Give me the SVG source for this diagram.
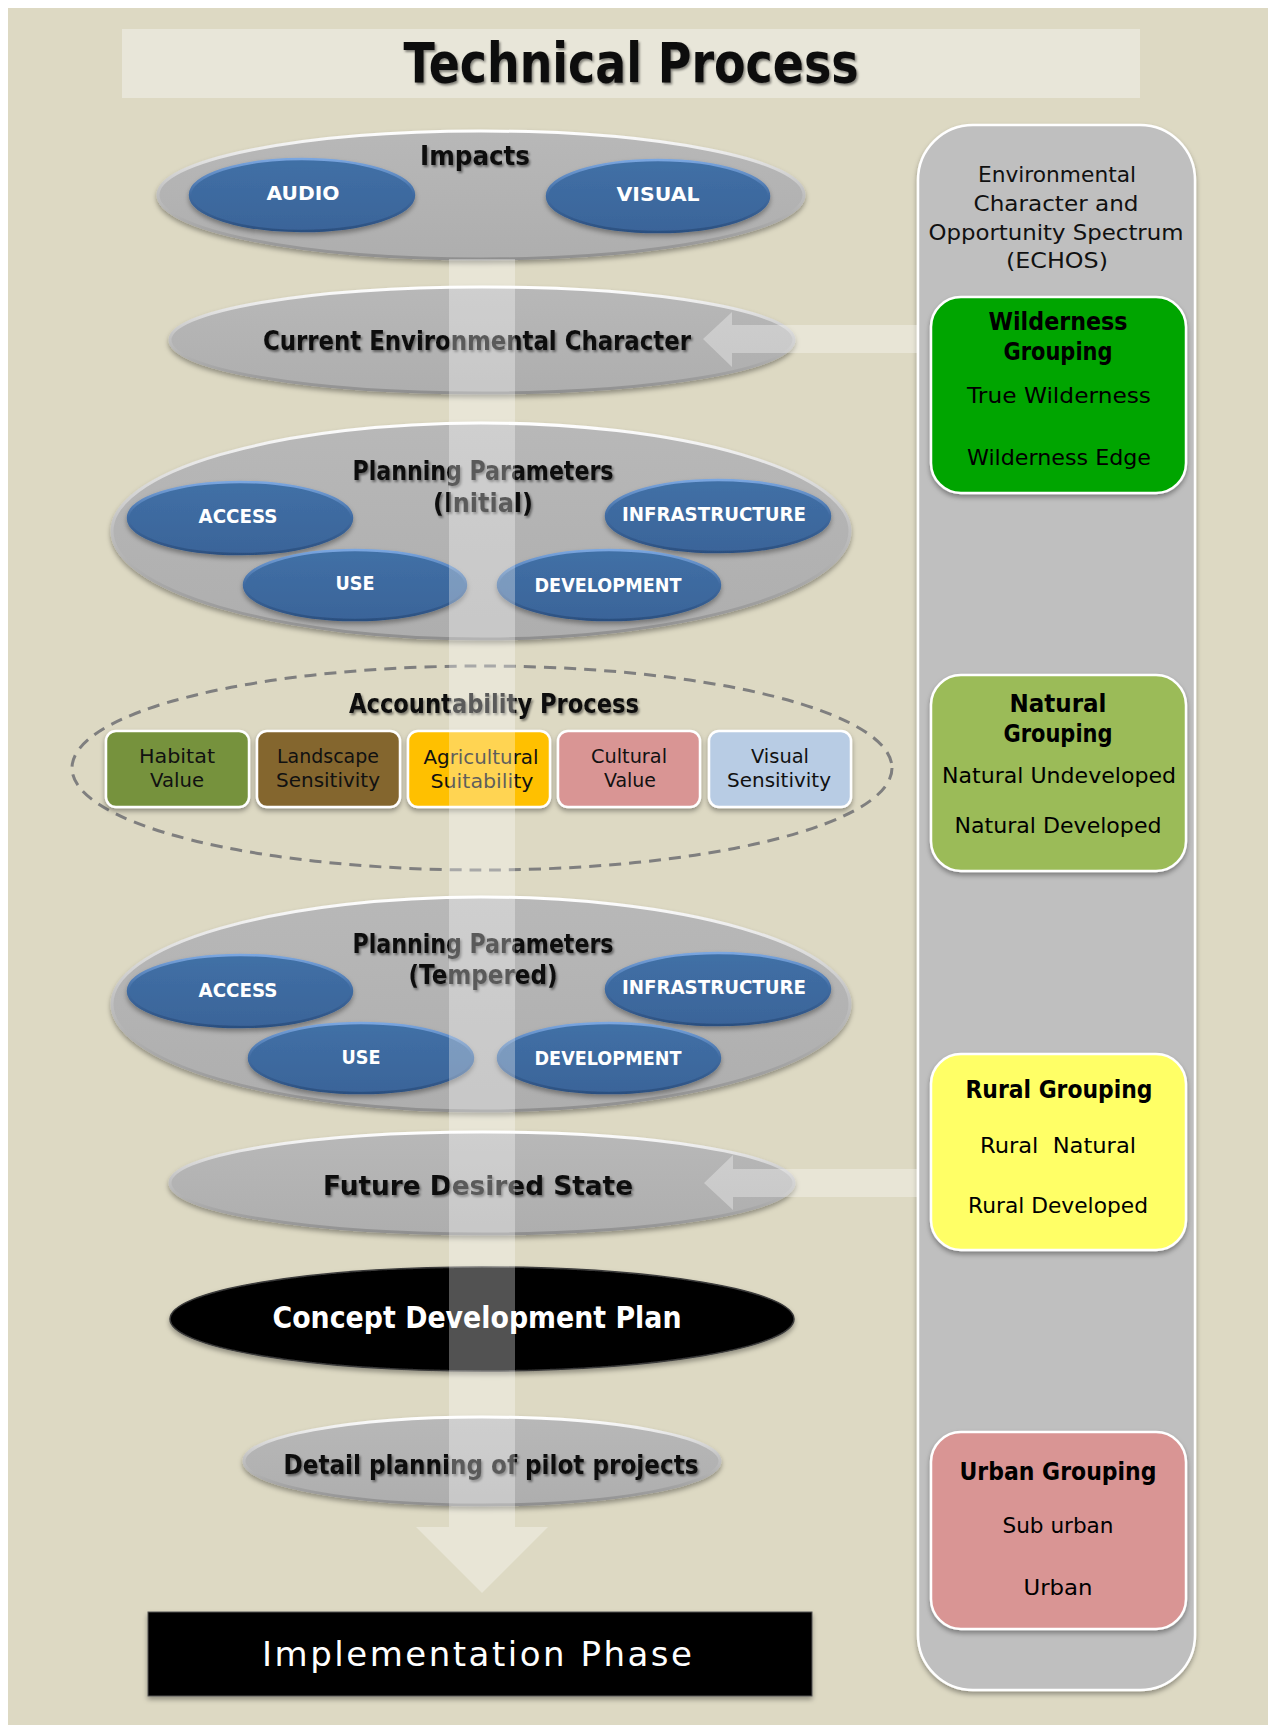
<svg xmlns="http://www.w3.org/2000/svg" width="1268" height="1725" viewBox="0 0 1268 1725">
  <defs>
    <style>
      text { font-family: "Comic Sans MS", "DejaVu Sans", "Open Sans", sans-serif; text-anchor: middle; }
      .title { font-size: 56px; font-weight: bold; fill: #0d0d0d; }
      .lbl { font-size: 26px; font-weight: bold; fill: #111; }
      .blue-t { font-size: 19px; font-weight: bold; fill: #ffffff; }
      .box-t { font-size: 20px; fill: #111; }
      .echos-t { font-size: 21px; fill: #111; }
      .grp-h { font-size: 25px; font-weight: bold; fill: #000; }
      .grp-i { font-size: 22px; fill: #000; }
      .white-b { font-size: 31px; font-weight: bold; fill: #ffffff; }
      .white-r { font-size: 34px; fill: #ffffff; }
      .gray-ell { fill: url(#grayFill); stroke: url(#grayRim); stroke-width: 3; filter: url(#shadow); }
      .blue-ell { fill: url(#blueFill); stroke: url(#blueRim); stroke-width: 2.5; filter: url(#shadow); }
      .acc-box { stroke: #ffffff; stroke-width: 2.5; filter: url(#shadow); }
      .grp-box { stroke: #ffffff; stroke-width: 2.5; filter: url(#shadow); }
      .flow { fill: #ffffff; fill-opacity: 0.32; }
    </style>
    <linearGradient id="grayFill" x1="0" y1="0" x2="0" y2="1">
      <stop offset="0" stop-color="#b8b8b8"/>
      <stop offset="1" stop-color="#aeaeae"/>
    </linearGradient>
    <linearGradient id="grayRim" x1="0" y1="0" x2="0" y2="1">
      <stop offset="0" stop-color="#ffffff"/>
      <stop offset="0.45" stop-color="#c4c4c4"/>
      <stop offset="1" stop-color="#8f8f8f"/>
    </linearGradient>
    <linearGradient id="blueFill" x1="0" y1="0" x2="0" y2="1">
      <stop offset="0" stop-color="#4170a6"/>
      <stop offset="1" stop-color="#3a6499"/>
    </linearGradient>
    <linearGradient id="blueRim" x1="0" y1="0" x2="0" y2="1">
      <stop offset="0" stop-color="#7aa6e0"/>
      <stop offset="0.5" stop-color="#3f6aa0"/>
      <stop offset="1" stop-color="#2c5080"/>
    </linearGradient>
    <filter id="shadow" x="-10%" y="-20%" width="120%" height="150%">
      <feDropShadow dx="0" dy="3" stdDeviation="2.5" flood-color="#000" flood-opacity="0.35"/>
    </filter>
    <filter id="tshadow" x="-5%" y="-20%" width="110%" height="160%">
      <feDropShadow dx="1.5" dy="2" stdDeviation="1.2" flood-color="#000" flood-opacity="0.45"/>
    </filter>
  </defs>

  <!-- page background -->
  <rect x="0" y="0" width="1268" height="1725" fill="#ffffff"/>
  <rect x="8" y="8" width="1260" height="1717" fill="#ddd9c3"/>

  <!-- heading -->
  <g id="title">
    <rect x="122" y="29" width="1018" height="69" fill="#e8e6d9"/>
    <text class="title" x="631" y="82" textLength="455" lengthAdjust="spacingAndGlyphs" filter="url(#tshadow)">Technical Process</text>
  </g>

  <!-- ECHOS column and its groupings -->
  <g id="echos">
    <rect x="918" y="125" width="277" height="1565" rx="55" fill="#bfbfbf" stroke="#ffffff" stroke-width="2.5" filter="url(#shadow)"/>
    <text class="echos-t" x="1057" y="182" textLength="158" lengthAdjust="spacingAndGlyphs">Environmental</text>
    <text class="echos-t" x="1056" y="211" textLength="165" lengthAdjust="spacingAndGlyphs">Character and</text>
    <text class="echos-t" x="1056" y="240" textLength="255" lengthAdjust="spacingAndGlyphs">Opportunity Spectrum</text>
    <text class="echos-t" x="1057" y="268" textLength="102" lengthAdjust="spacingAndGlyphs">(ECHOS)</text>
  </g>

  <g id="wilderness">
    <rect class="grp-box" x="931" y="297" width="255" height="196" rx="30" fill="#00a500"/>
    <text class="grp-h" x="1058" y="330" textLength="139" lengthAdjust="spacingAndGlyphs">Wilderness</text>
    <text class="grp-h" x="1058" y="360" textLength="109" lengthAdjust="spacingAndGlyphs">Grouping</text>
    <text class="grp-i" x="1059" y="403" textLength="184" lengthAdjust="spacingAndGlyphs">True Wilderness</text>
    <text class="grp-i" x="1059" y="465" textLength="184" lengthAdjust="spacingAndGlyphs">Wilderness Edge</text>
  </g>

  <g id="natural">
    <rect class="grp-box" x="931" y="675" width="255" height="196" rx="30" fill="#9bbb59"/>
    <text class="grp-h" x="1058" y="712" textLength="97" lengthAdjust="spacingAndGlyphs">Natural</text>
    <text class="grp-h" x="1058" y="742" textLength="109" lengthAdjust="spacingAndGlyphs">Grouping</text>
    <text class="grp-i" x="1059" y="783" textLength="234" lengthAdjust="spacingAndGlyphs">Natural Undeveloped</text>
    <text class="grp-i" x="1058" y="833" textLength="207" lengthAdjust="spacingAndGlyphs">Natural Developed</text>
  </g>

  <g id="rural">
    <rect class="grp-box" x="931" y="1054" width="255" height="196" rx="30" fill="#ffff66"/>
    <text class="grp-h" x="1059" y="1098" textLength="187" lengthAdjust="spacingAndGlyphs">Rural Grouping</text>
    <text class="grp-i" x="1058" y="1153" textLength="156" lengthAdjust="spacingAndGlyphs" xml:space="preserve">Rural  Natural</text>
    <text class="grp-i" x="1058" y="1213" textLength="180" lengthAdjust="spacingAndGlyphs">Rural Developed</text>
  </g>

  <g id="urban">
    <rect class="grp-box" x="931" y="1432" width="255" height="197" rx="30" fill="#d99594"/>
    <text class="grp-h" x="1058" y="1480" textLength="197" lengthAdjust="spacingAndGlyphs">Urban Grouping</text>
    <text class="grp-i" x="1058" y="1533" textLength="111" lengthAdjust="spacingAndGlyphs">Sub urban</text>
    <text class="grp-i" x="1058" y="1595" textLength="69" lengthAdjust="spacingAndGlyphs">Urban</text>
  </g>

  <!-- process stages -->
  <g id="impacts">
    <ellipse class="gray-ell" cx="481" cy="195" rx="323" ry="64"/>
    <text class="lbl" x="475" y="165" textLength="110" lengthAdjust="spacingAndGlyphs" filter="url(#tshadow)">Impacts</text>
    <ellipse class="blue-ell" cx="302" cy="195" rx="112" ry="36"/>
    <text class="blue-t" x="303" y="200" textLength="73" lengthAdjust="spacingAndGlyphs">AUDIO</text>
    <ellipse class="blue-ell" cx="658" cy="196" rx="111" ry="36"/>
    <text class="blue-t" x="658" y="201" textLength="83" lengthAdjust="spacingAndGlyphs">VISUAL</text>
  </g>

  <g id="current-character">
    <ellipse class="gray-ell" cx="482" cy="340" rx="312" ry="53"/>
    <text class="lbl" x="477" y="350" textLength="428" lengthAdjust="spacingAndGlyphs" filter="url(#tshadow)">Current Environmental Character</text>
  </g>

  <g id="planning-initial">
    <ellipse class="gray-ell" cx="481" cy="531" rx="369" ry="108"/>
    <text class="lbl" x="483" y="480" textLength="261" lengthAdjust="spacingAndGlyphs" filter="url(#tshadow)">Planning Parameters</text>
    <text class="lbl" x="483" y="512" textLength="100" lengthAdjust="spacingAndGlyphs" filter="url(#tshadow)">(Initial)</text>
    <ellipse class="blue-ell" cx="240" cy="518" rx="112" ry="36"/>
    <text class="blue-t" x="238" y="523" textLength="79" lengthAdjust="spacingAndGlyphs">ACCESS</text>
    <ellipse class="blue-ell" cx="718" cy="516" rx="112" ry="36"/>
    <text class="blue-t" x="714" y="521" textLength="184" lengthAdjust="spacingAndGlyphs">INFRASTRUCTURE</text>
    <ellipse class="blue-ell" cx="355" cy="585" rx="111" ry="35"/>
    <text class="blue-t" x="355" y="590" textLength="39" lengthAdjust="spacingAndGlyphs">USE</text>
    <ellipse class="blue-ell" cx="609" cy="585" rx="111" ry="35"/>
    <text class="blue-t" x="608" y="592" textLength="147" lengthAdjust="spacingAndGlyphs">DEVELOPMENT</text>
  </g>

  <g id="accountability">
    <ellipse cx="482" cy="768" rx="410" ry="102" fill="none" stroke="#7f7f7f" stroke-width="3" stroke-dasharray="12 8"/>
    <text class="lbl" x="494" y="713" textLength="290" lengthAdjust="spacingAndGlyphs" filter="url(#tshadow)">Accountability Process</text>
    <g id="habitat">
      <rect class="acc-box" x="106" y="731" width="143" height="76" rx="10" fill="#76923c"/>
      <text class="box-t" x="177" y="763" textLength="76" lengthAdjust="spacingAndGlyphs">Habitat</text>
      <text class="box-t" x="177" y="787" textLength="54" lengthAdjust="spacingAndGlyphs">Value</text>
    </g>
    <g id="landscape">
      <rect class="acc-box" x="257" y="731" width="143" height="76" rx="10" fill="#84662f"/>
      <text class="box-t" x="328" y="763" textLength="102" lengthAdjust="spacingAndGlyphs">Landscape</text>
      <text class="box-t" x="328" y="787" textLength="104" lengthAdjust="spacingAndGlyphs">Sensitivity</text>
    </g>
    <g id="agricultural">
      <rect class="acc-box" x="408" y="731" width="142" height="76" rx="10" fill="#ffc000"/>
      <text class="box-t" x="481" y="764" textLength="115" lengthAdjust="spacingAndGlyphs">Agricultural</text>
      <text class="box-t" x="482" y="788" textLength="103" lengthAdjust="spacingAndGlyphs">Suitability</text>
    </g>
    <g id="cultural">
      <rect class="acc-box" x="558" y="731" width="142" height="76" rx="10" fill="#d99594"/>
      <text class="box-t" x="629" y="763" textLength="76" lengthAdjust="spacingAndGlyphs">Cultural</text>
      <text class="box-t" x="630" y="787" textLength="52" lengthAdjust="spacingAndGlyphs">Value</text>
    </g>
    <g id="visual-sensitivity">
      <rect class="acc-box" x="709" y="731" width="142" height="76" rx="10" fill="#b8cce4"/>
      <text class="box-t" x="780" y="763" textLength="58" lengthAdjust="spacingAndGlyphs">Visual</text>
      <text class="box-t" x="779" y="787" textLength="104" lengthAdjust="spacingAndGlyphs">Sensitivity</text>
    </g>
  </g>

  <g id="planning-tempered">
    <ellipse class="gray-ell" cx="481" cy="1004" rx="369" ry="107"/>
    <text class="lbl" x="483" y="953" textLength="261" lengthAdjust="spacingAndGlyphs" filter="url(#tshadow)">Planning Parameters</text>
    <text class="lbl" x="483" y="984" textLength="149" lengthAdjust="spacingAndGlyphs" filter="url(#tshadow)">(Tempered)</text>
    <ellipse class="blue-ell" cx="240" cy="991" rx="112" ry="36"/>
    <text class="blue-t" x="238" y="997" textLength="79" lengthAdjust="spacingAndGlyphs">ACCESS</text>
    <ellipse class="blue-ell" cx="718" cy="989" rx="112" ry="36"/>
    <text class="blue-t" x="714" y="994" textLength="184" lengthAdjust="spacingAndGlyphs">INFRASTRUCTURE</text>
    <ellipse class="blue-ell" cx="361" cy="1058" rx="112" ry="35"/>
    <text class="blue-t" x="361" y="1064" textLength="39" lengthAdjust="spacingAndGlyphs">USE</text>
    <ellipse class="blue-ell" cx="609" cy="1058" rx="111" ry="35"/>
    <text class="blue-t" x="608" y="1065" textLength="147" lengthAdjust="spacingAndGlyphs">DEVELOPMENT</text>
  </g>

  <g id="future-state">
    <ellipse class="gray-ell" cx="482" cy="1183" rx="312" ry="51"/>
    <text class="lbl" x="478" y="1195" font-size="28" textLength="310" lengthAdjust="spacingAndGlyphs" filter="url(#tshadow)">Future Desired State</text>
  </g>

  <g id="concept-plan">
    <ellipse cx="482" cy="1319" rx="312" ry="52" fill="#050505" stroke="#3a3a3a" stroke-width="1.5" filter="url(#shadow)"/>
    <text class="white-b" x="477" y="1328" textLength="409" lengthAdjust="spacingAndGlyphs">Concept Development Plan</text>
  </g>

  <g id="pilot-projects">
    <ellipse class="gray-ell" cx="482" cy="1461" rx="238" ry="44"/>
    <text class="lbl" x="491" y="1474" textLength="415" lengthAdjust="spacingAndGlyphs" filter="url(#tshadow)">Detail planning of pilot projects</text>
  </g>

  <g id="implementation">
    <rect x="148" y="1612" width="664" height="84" fill="#050505" stroke="#555" stroke-width="1" filter="url(#shadow)"/>
    <text class="white-r" x="477" y="1666" textLength="430" lengthAdjust="spacing">Implementation Phase</text>
  </g>

  <!-- translucent flow arrows -->
  <g id="connectors">
    <polygon class="flow" points="449,259 515,259 515,1527 548,1527 482,1593 416,1527 449,1527"/>
    <polygon class="flow" points="918,325 732,325 732,312 703,339 732,367 732,353 918,353"/>
    <polygon class="flow" points="918,1169 733,1169 733,1155 704,1183 733,1210 733,1197 918,1197"/>
  </g>
</svg>
